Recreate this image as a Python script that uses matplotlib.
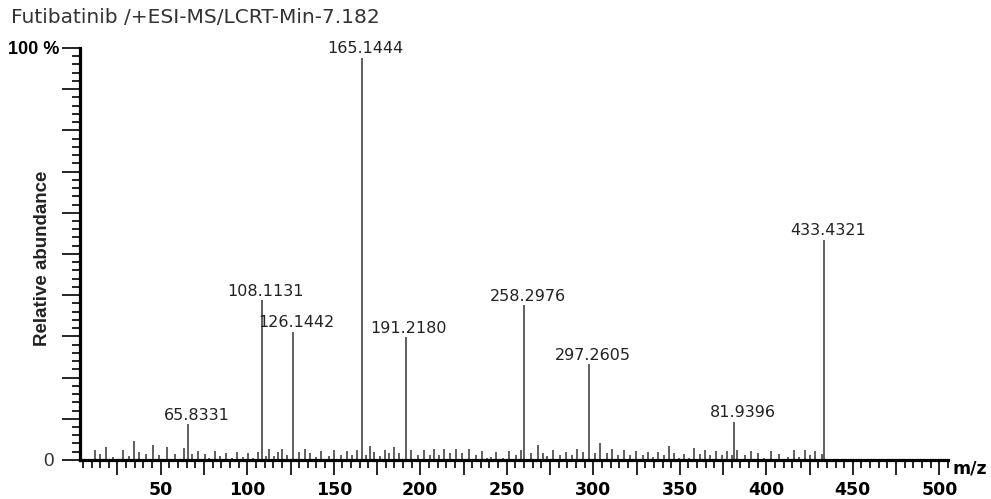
import matplotlib
matplotlib.use("Agg")
import matplotlib.pyplot as plt
from matplotlib.ticker import MultipleLocator
import numpy as np

# labelled peaks (position, label text as printed)
peak_mz = [65.6, 108.5, 126.4, 166.5, 191.5, 260.2, 297.7, 381.3, 433.4]
peak_int = [8.7, 38.8, 31.1, 97.6, 29.8, 37.6, 23.3, 9.3, 53.5]
peak_labels = ["65.8331", "108.1131", "126.1442", "165.1444", "191.2180",
               "258.2976", "297.2605", "81.9396", "433.4321"]

# small background peaks
noise_mz = [12.1, 14.9, 18.3, 22.5, 28.2, 31.4, 34.3, 37.2, 41.4, 45.5,
            49.0, 53.8, 58.4, 63.4, 67.9, 71.7, 75.4, 78.0, 81.3, 84.4,
            87.7, 91.2, 94.1, 97.3, 100.4, 103.3, 106.4, 110.6, 112.7, 115.3,
            117.7, 120.2, 123.1, 130.1, 133.4, 136.1, 139.5, 142.4, 147.1, 149.9,
            154.2, 157.6, 160.7, 163.4, 168.6, 170.8, 173.4, 176.9, 179.8, 182.1,
            184.6, 187.5, 194.8, 198.5, 202.0, 205.4, 208.1, 210.8, 213.7, 217.3,
            220.8, 224.3, 228.2, 232.4, 235.8, 238.7, 241.0, 243.8, 247.6, 251.1,
            255.1, 258.0, 264.2, 267.9, 270.8, 273.2, 276.9, 280.9, 284.4, 287.9,
            290.6, 294.0, 301.0, 303.9, 307.9, 310.8, 314.3, 317.6, 321.0, 324.6,
            328.6, 331.4, 334.3, 337.6, 341.0, 343.9, 346.8, 349.7, 352.4, 355.3,
            358.0, 361.8, 364.7, 367.3, 370.9, 374.2, 377.3, 380.0, 382.9, 387.5,
            391.0, 395.0, 398.7, 402.9, 407.5, 412.4, 415.8, 418.7, 422.2, 425.4,
            428.3, 432.0]
noise_int = [2.5, 1.4, 3.2, 0.8, 2.5, 1.0, 4.6, 1.9, 1.4, 3.7,
             1.1, 3.2, 1.4, 2.8, 1.4, 2.3, 1.4, 0.6, 2.3, 1.0,
             1.7, 0.6, 1.9, 0.8, 1.7, 0.6, 1.9, 1.0, 2.7, 1.0,
             1.9, 2.7, 1.3, 1.9, 2.7, 1.6, 0.7, 2.2, 1.0, 2.5,
             1.3, 2.2, 1.3, 2.5, 1.3, 3.4, 1.9, 1.0, 2.5, 1.6,
             3.1, 1.6, 2.5, 1.3, 2.5, 1.3, 2.7, 1.3, 2.7, 1.6,
             2.7, 1.6, 2.7, 1.3, 2.2, 0.5, 0.7, 1.9, 0.5, 2.2,
             1.3, 2.5, 1.6, 3.6, 1.6, 1.0, 2.5, 1.3, 1.9, 1.3,
             2.7, 1.9, 1.6, 4.0, 1.6, 2.7, 1.3, 2.5, 1.3, 2.2,
             1.1, 1.9, 0.8, 1.9, 1.1, 3.4, 1.7, 0.5, 1.4, 0.5,
             2.8, 1.4, 2.5, 1.1, 2.3, 1.1, 2.3, 1.1, 2.5, 1.1,
             2.3, 1.7, 0.5, 2.3, 1.4, 0.8, 2.5, 0.8, 2.5, 1.1,
             2.3, 1.4]

title = "Futibatinib /+ESI-MS/LCRT-Min-7.182"
line_color = "#444444"

fig = plt.figure(figsize=(9.91, 4.99), dpi=100)
ax = fig.add_axes([0.0812, 0.0782, 0.8754, 0.8257])

ax.vlines(noise_mz, 0, noise_int, color=line_color, lw=1.2)
ax.vlines(peak_mz, 0, peak_int, color=line_color, lw=1.2)

for mz, inten, lab in zip(peak_mz, peak_int, peak_labels):
    ax.annotate(lab, xy=(mz, inten), xytext=(30, 1), textcoords="offset points",
                ha="right", va="bottom", fontsize=11.5, color="#222222",
                family="DejaVu Sans")

ax.set_xlim(3.6, 505)
ax.set_ylim(0, 100)

# axes styling
for side in ["top", "right"]:
    ax.spines[side].set_visible(False)
for side in ["left", "bottom"]:
    ax.spines[side].set_linewidth(2.3)

xt = np.arange(25, 501, 25)
ax.set_xticks(xt)
ax.set_xticklabels([str(v) if v % 50 == 0 else "" for v in xt],
                   fontsize=12.5, fontweight="bold", family="DejaVu Sans")
ax.xaxis.set_minor_locator(MultipleLocator(5))
ax.tick_params(axis="x", which="major", length=11, width=1.2, pad=4)
ax.tick_params(axis="x", which="minor", length=6, width=1.2)

yt = np.arange(0, 101, 10)
ax.set_yticks(yt)
ylabs = ["0 "] + [""] * 9 + ["100 %"]
ax.set_yticklabels(ylabs, fontsize=13.5, family="Liberation Sans", color="#333333")
ax.get_yticklabels()[-1].set_fontweight("bold")
ax.get_yticklabels()[-1].set_fontsize(13)
ax.get_yticklabels()[-1].set_color("black")
ax.yaxis.set_minor_locator(MultipleLocator(2))
ax.tick_params(axis="y", which="major", length=13, width=1.2, pad=2)
ax.tick_params(axis="y", which="minor", length=6, width=1.2)

ax.set_ylabel("Relative abundance", fontsize=13.5, fontweight="bold",
              family="Liberation Sans", color="#222222")
ax.yaxis.set_label_coords(-0.034, 0.49)

ax.annotate("m/z", xy=(1, 0), xycoords="axes fraction", xytext=(3, -6),
            textcoords="offset points", ha="left", va="center",
            fontsize=12.5, fontweight="bold", family="DejaVu Sans")

fig.text(0.011, 0.964, title, fontsize=14.5, color="#333333",
         family="DejaVu Sans", ha="left", va="center")

fig.savefig("out.png", dpi=100)
